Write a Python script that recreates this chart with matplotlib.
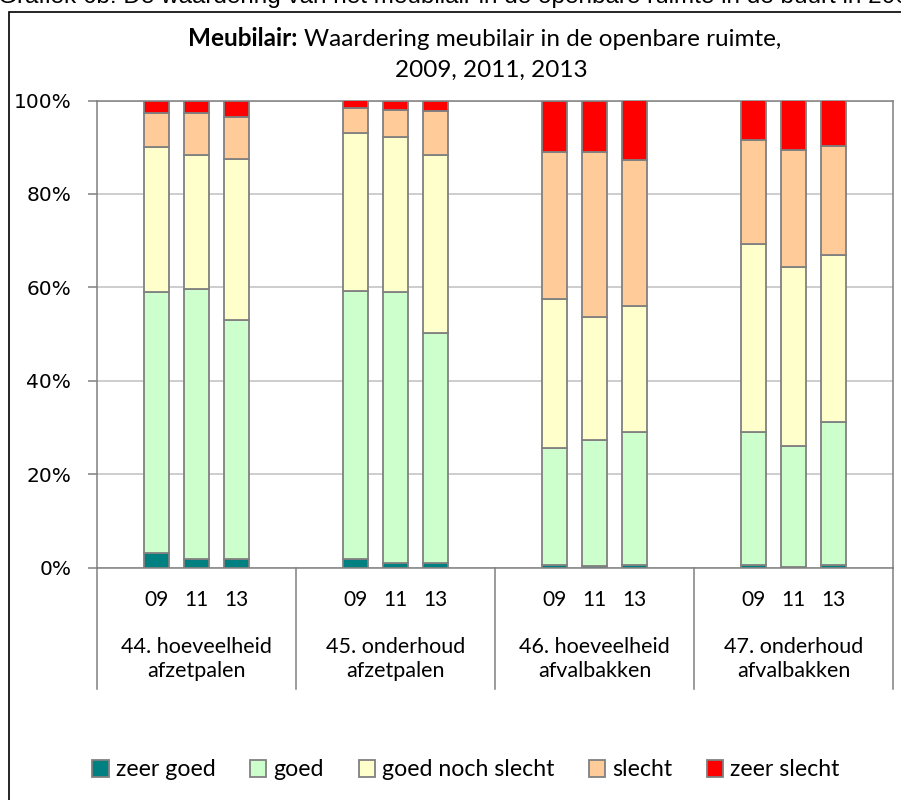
import matplotlib
matplotlib.use("Agg")
import matplotlib.pyplot as plt
from matplotlib.patches import Patch, Rectangle
import numpy as np

# data: 4 questions x 3 years (percentages per answer)
groups = ["44. hoeveelheid\nafzetpalen", "45. onderhoud\nafzetpalen",
          "46. hoeveelheid\nafvalbakken", "47. onderhoud\nafvalbakken"]
years = ["09", "11", "13"]
categories = ["zeer goed", "goed", "goed noch slecht", "slecht", "zeer slecht"]

zeer_goed = [3.1, 1.9, 1.9, 1.9, 0.9, 0.9, 0.6, 0.3, 0.6, 0.6, 0.1, 0.6]
goed = [55.8, 57.8, 51.0, 57.3, 58.0, 49.4, 24.9, 27.0, 28.4, 28.4, 25.9, 30.5]
goed_noch_slecht = [31.2, 28.6, 34.6, 33.9, 33.3, 38.0, 32.1, 26.4, 26.9, 40.2, 38.4, 35.9]
slecht = [7.3, 9.1, 9.0, 5.2, 5.7, 9.4, 31.3, 35.2, 31.3, 22.3, 24.9, 23.2]
zeer_slecht = [2.6, 2.6, 3.5, 1.7, 2.1, 2.3, 11.1, 11.1, 12.8, 8.5, 10.7, 9.8]

colors = ["#008080", "#CCFFCC", "#FFFFCC", "#FFCC99", "#FF0000"]
EDGE = "#808080"
CAL = "Lato"

W, H = 901, 800
fig = plt.figure(figsize=(W / 100, H / 100), dpi=100)

# outer chart border
fig.patches.append(Rectangle((9 / W, -0.05), 1.0, 1 - 12 / H + 0.05, transform=fig.transFigure,
                             fill=False, edgecolor="black", linewidth=1.2))

# header line, cut off at the top like in the original
fig.text(-2 / W, 1 - 3 / H, "Grafiek 6b: De waardering van het meubilair in de openbare ruimte in de buurt in 2009, 2011 en 2013",
         family="Liberation Sans", fontsize=17.5, ha="left", va="baseline")

ax = fig.add_axes([97 / W, 1 - 567.5 / H, (893 - 97) / W, (567.5 - 100.5) / H])

series = [zeer_goed, goed, goed_noch_slecht, slecht, zeer_slecht]
xpos = np.array([5 * g + 1.5 + j for g in range(len(groups)) for j in range(len(years))])
bottom = np.zeros(len(xpos))
for vals, col in zip(series, colors):
    vals = np.array(vals)
    ax.bar(xpos, vals, bottom=bottom, width=0.63, color=col, edgecolor=EDGE, linewidth=1.3, zorder=3)
    bottom += vals

ax.set_xlim(0, 20)
ax.set_ylim(0, 100)
ax.set_yticks(np.arange(0, 101, 20))
ax.set_yticklabels([f"{v}%" for v in range(0, 101, 20)], family="DejaVu Sans", fontsize=14.5)
ax.tick_params(axis="y", length=6.5, width=1.1, color=EDGE, pad=12)
ax.set_xticks([])
ax.yaxis.grid(True, color="#C0C0C0", linewidth=1.1, zorder=0)
ax.set_axisbelow(True)
for s in ax.spines.values():
    s.set_color(EDGE)
    s.set_linewidth(1.1)

# category axis: year labels, group labels, separators
tr = ax.get_xaxis_transform()
for x, lab in zip(xpos, years * len(groups)):
    ax.text(x, -0.07, lab, transform=tr, ha="center", va="center", family=CAL, fontsize=15)
for g, lab in enumerate(groups):
    ax.text(5 * g + 2.5, -0.196, lab, transform=tr, ha="center", va="center", family=CAL,
            fontsize=15.5, linespacing=1.25)
for g in range(len(groups) + 1):
    ax.plot([5 * g, 5 * g], [0, -0.26], transform=tr, color=EDGE, linewidth=1.1, clip_on=False)

# title with bold lead-in
ty = 1 - 46 / H
t1 = fig.text(188 / W, ty, "Meubilair:", family=CAL, fontsize=17.5, weight="bold", ha="left", va="baseline")
fig.canvas.draw()
bb = t1.get_window_extent()
fig.text(bb.x1 / W + 7 / W, ty, "Waardering meubilair in de openbare ruimte,", family=CAL, fontsize=17.5,
         ha="left", va="baseline")
fig.text(491 / W, 1 - 77 / H, "2009, 2011, 2013", family=CAL, fontsize=17.5, ha="center", va="baseline")

handles = [Patch(facecolor=c, edgecolor=EDGE, linewidth=1.3, label=l) for c, l in zip(colors, categories)]
fig.legend(handles=handles, loc="center", bbox_to_anchor=(466 / W, 1 - 770 / H), ncol=5, frameon=False,
           prop={"family": CAL, "size": 16.7}, handlelength=0.7, handleheight=0.7,
           handletextpad=0.3, columnspacing=1.5, borderpad=0)

fig.savefig("out.png", dpi=100)
